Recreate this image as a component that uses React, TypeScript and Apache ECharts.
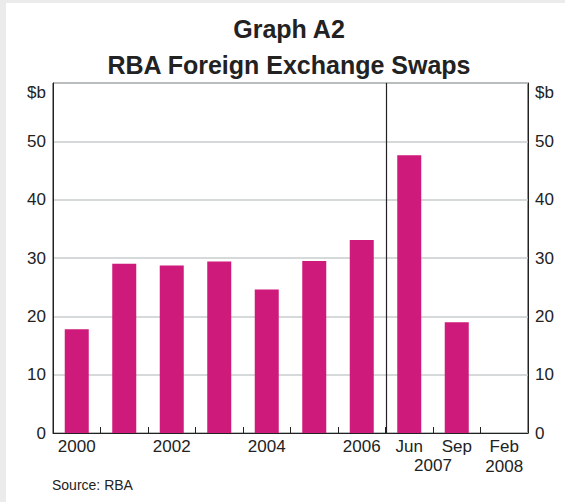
import React, { useEffect, useRef } from "react";
import * as echarts from "echarts";

const categories = ["2000", "2001", "2002", "2003", "2004", "2005", "2006", "Jun", "Sep", "Feb"];
const tickLabels = ["2000", "", "2002", "", "2004", "", "2006", "Jun", "Sep", "Feb\n2008"];
const swaps = [17.8, 29.0, 28.7, 29.4, 24.6, 29.5, 33.1, 47.6, 19.0, 0];
const yTicks = [0, 10, 20, 30, 40, 50, 60];

const FONT = "'Liberation Sans', Arial, Helvetica, sans-serif";
const INK = "#222222";

export default function App() {
  const ref = useRef<HTMLDivElement>(null);
  useEffect(() => {
    if (!ref.current) return;
    const chart = echarts.init(ref.current, null, { renderer: "svg" });
    const yAxisBase = {
      type: "value",
      min: yTicks[0],
      max: yTicks[yTicks.length - 1],
      interval: 10,
      axisLine: { show: true, lineStyle: { color: INK, width: 1 } },
      axisTick: { show: false },
      axisLabel: {
        margin: 7,
        fontSize: 17,
        color: INK,
        fontFamily: FONT,
        formatter: (v: number) => (v === 60 ? "" : String(v)),
      },
    };
    const texts = [
      {
        type: "text",
        x: 283,
        y: 26,
        style: { text: "Graph A2", font: `bold 25px ${FONT}`, fill: INK, textAlign: "center", textVerticalAlign: "middle" },
      },
      {
        type: "text",
        x: 283,
        y: 62,
        style: { text: "RBA Foreign Exchange Swaps", font: `bold 25px ${FONT}`, fill: INK, textAlign: "center", textVerticalAlign: "middle" },
      },
      {
        type: "text",
        x: 40,
        y: 89,
        style: { text: "$b", font: `17px ${FONT}`, fill: INK, textAlign: "right", textVerticalAlign: "middle" },
      },
      {
        type: "text",
        x: 529,
        y: 89,
        style: { text: "$b", font: `17px ${FONT}`, fill: INK, textAlign: "left", textVerticalAlign: "middle" },
      },
      {
        type: "text",
        x: 427,
        y: 462,
        style: { text: "2007", font: `17px ${FONT}`, fill: INK, textAlign: "center", textVerticalAlign: "middle" },
      },
      {
        type: "text",
        x: 46,
        y: 482,
        style: { text: "Source: RBA", font: `14px ${FONT}`, fill: INK, textAlign: "left", textVerticalAlign: "middle" },
      },
    ];
    chart.setOption({
      animation: false,
      backgroundColor: "#ffffff",
      textStyle: { fontFamily: FONT },
      grid: {
        left: 47,
        right: 37,
        top: 80,
        bottom: 69,
        show: true,
        borderColor: INK,
        borderWidth: 1,
        backgroundColor: "transparent",
      },
      xAxis: {
        type: "category",
        data: categories,
        boundaryGap: true,
        axisLine: { show: true, lineStyle: { color: INK, width: 1 } },
        axisTick: { show: true, inside: true, length: 6, interval: 0, alignWithLabel: false, lineStyle: { color: INK } },
        axisLabel: {
          interval: 0,
          margin: 3,
          fontSize: 17,
          lineHeight: 20,
          color: INK,
          fontFamily: FONT,
          formatter: (_v: string, i: number) => tickLabels[i],
        },
      },
      yAxis: [
        {
          ...yAxisBase,
          position: "left",
          splitLine: { show: true, lineStyle: { color: "#c9cccd", width: 1.5 } },
        },
        {
          ...yAxisBase,
          position: "right",
          splitLine: { show: false },
        },
      ],
      series: [
        {
          type: "bar",
          data: swaps,
          barWidth: 24,
          itemStyle: { color: "#ce1a7a" },
        },
      ],
      graphic: texts,
    });
    const xa = chart.convertToPixel({ xAxisIndex: 0 }, categories[6]) as number;
    const xb = chart.convertToPixel({ xAxisIndex: 0 }, categories[7]) as number;
    const yTop = chart.convertToPixel({ yAxisIndex: 0 }, yTicks[yTicks.length - 1]) as number;
    const yBot = chart.convertToPixel({ yAxisIndex: 0 }, yTicks[0]) as number;
    const xm = Math.round((xa + xb) / 2) + 0.5;
    chart.setOption({
      graphic: [
        ...texts,
        {
          type: "line",
          shape: { x1: xm, y1: yTop, x2: xm, y2: yBot },
          style: { stroke: INK, lineWidth: 1.2 },
          z: 10,
        },
      ],
    });
    return () => chart.dispose();
  }, []);
  return (
    <div style={{ position: "fixed", left: 0, top: 0, width: 565, height: 502, background: "#ebebeb" }}>
      <div ref={ref} style={{ position: "absolute", left: 6, top: 3, width: 559, height: 499, background: "#ffffff" }} />
    </div>
  );
}
